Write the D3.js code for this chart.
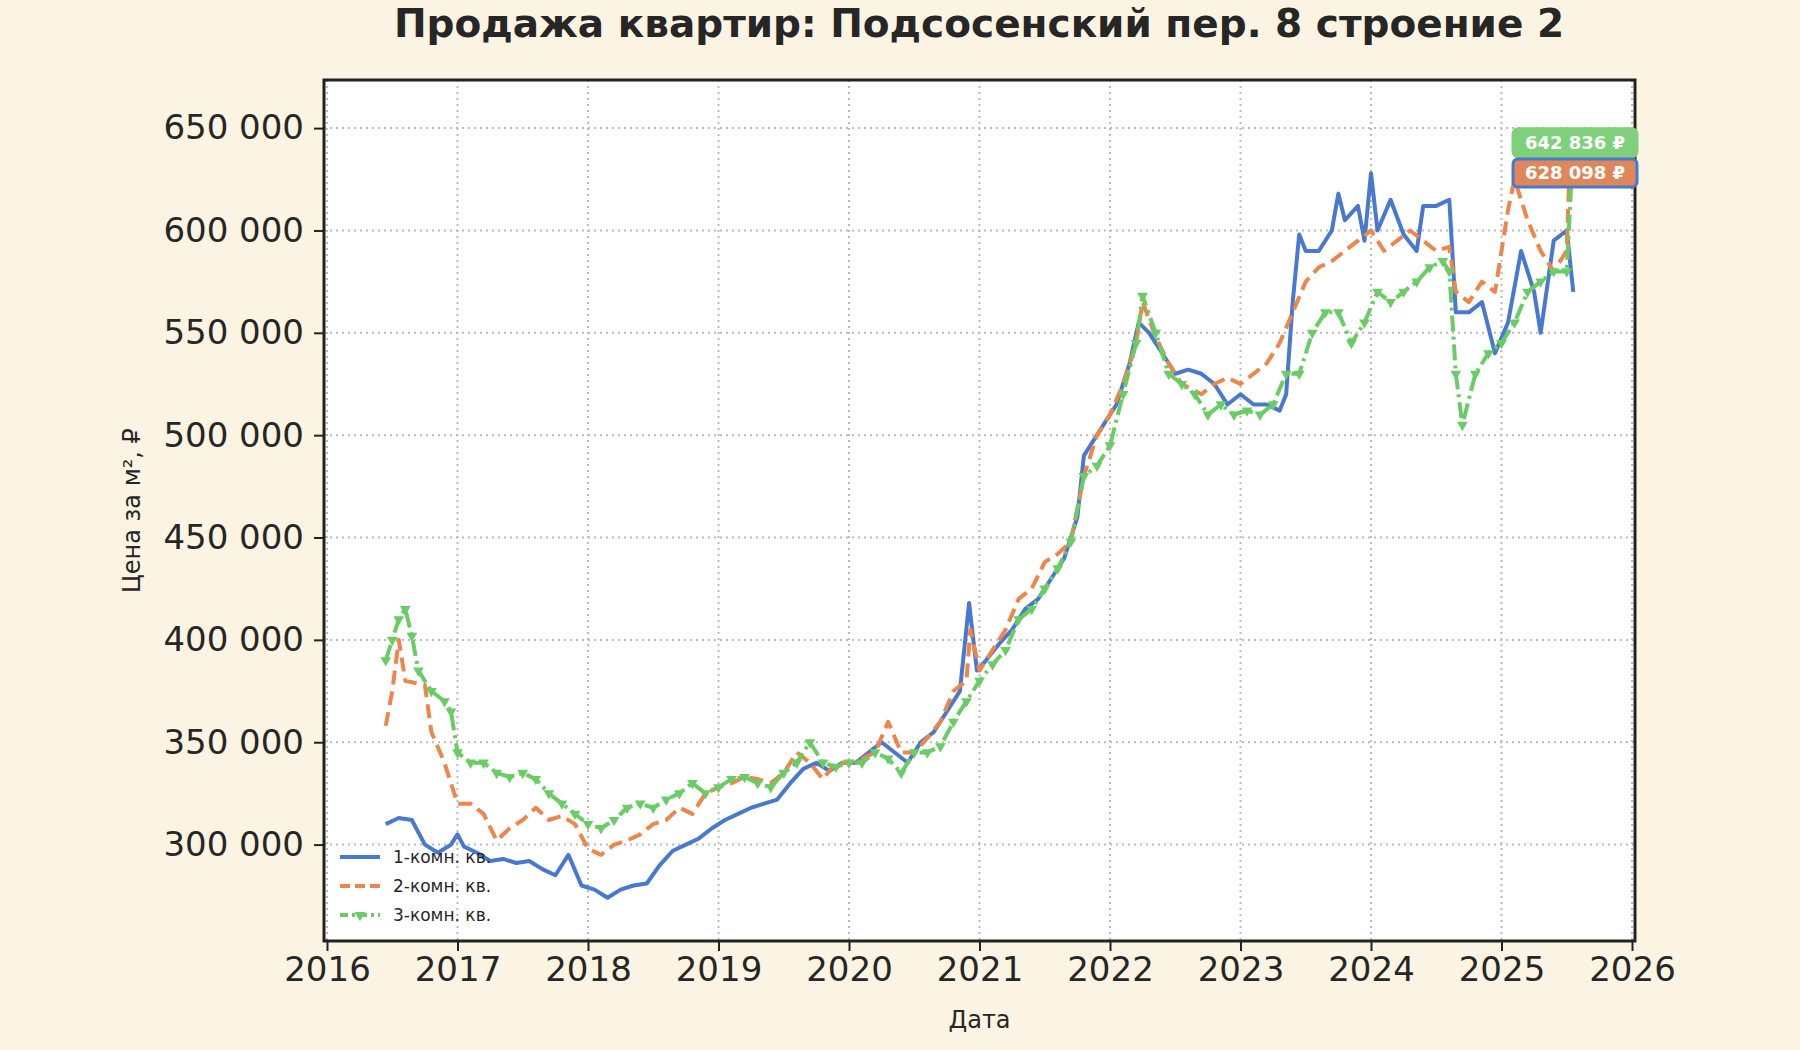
<!DOCTYPE html>
<html><head><meta charset="utf-8">
<script src="https://cdn.jsdelivr.net/npm/d3@7"></script>
<style>body{margin:0;background:#fcf4e3;font-family:"DejaVu Sans",sans-serif}</style>
</head><body><svg id="c" width="1800" height="1050"></svg>
<script>
const title = "Продажа квартир: Подсосенский пер. 8 строение 2";
const seriesNames = ["1-комн. кв.","2-комн. кв.","3-комн. кв."];
const yTicks = [300000,350000,400000,450000,500000,550000,600000,650000];
const xTicks = [2016,2017,2018,2019,2020,2021,2022,2023,2024,2025,2026];
const d1 = [2016.45,2016.55,2016.65,2016.75,2016.85,2016.95,2017.0,2017.05,2017.15,2017.25,2017.35,2017.45,2017.55,2017.65,2017.75,2017.85,2017.95,2018.05,2018.15,2018.25,2018.35,2018.45,2018.55,2018.65,2018.75,2018.85,2018.95,2019.05,2019.15,2019.25,2019.35,2019.45,2019.55,2019.65,2019.75,2019.85,2019.95,2020.05,2020.15,2020.25,2020.35,2020.45,2020.55,2020.65,2020.75,2020.85,2020.92,2020.98,2021.05,2021.15,2021.25,2021.35,2021.45,2021.55,2021.65,2021.75,2021.8,2021.95,2022.05,2022.15,2022.22,2022.3,2022.4,2022.5,2022.6,2022.7,2022.8,2022.9,2023.0,2023.1,2023.2,2023.3,2023.35,2023.4,2023.45,2023.5,2023.6,2023.7,2023.75,2023.8,2023.9,2023.95,2024.0,2024.05,2024.15,2024.25,2024.35,2024.4,2024.5,2024.6,2024.65,2024.75,2024.85,2024.95,2025.05,2025.15,2025.25,2025.3,2025.4,2025.5,2025.55];
const v1 = [310000,313000,312000,300000,296000,300000,305000,299000,296000,292000,293000,291000,292000,288000,285000,295000,280000,278000,274000,278000,280000,281000,290000,297000,300000,303000,308000,312000,315000,318000,320000,322000,330000,337000,340000,336000,340000,340000,345000,350000,345000,340000,350000,355000,365000,375000,418000,385000,390000,398000,405000,415000,420000,430000,440000,460000,490000,505000,515000,535000,555000,550000,540000,530000,532000,530000,525000,515000,520000,515000,515000,512000,520000,565000,598000,590000,590000,600000,618000,605000,612000,595000,628000,600000,615000,598000,590000,612000,612000,615000,560000,560000,565000,540000,555000,590000,570000,550000,595000,600000,570000];
const d2 = [2016.45,2016.5,2016.55,2016.6,2016.75,2016.8,2016.9,2016.95,2017.0,2017.1,2017.2,2017.3,2017.4,2017.5,2017.6,2017.7,2017.8,2017.9,2018.0,2018.1,2018.2,2018.3,2018.4,2018.5,2018.6,2018.7,2018.8,2018.9,2019.0,2019.1,2019.2,2019.3,2019.4,2019.5,2019.6,2019.7,2019.8,2019.9,2020.0,2020.1,2020.2,2020.3,2020.4,2020.5,2020.6,2020.7,2020.8,2020.9,2020.93,2021.0,2021.1,2021.2,2021.3,2021.4,2021.5,2021.6,2021.7,2021.8,2021.9,2022.0,2022.1,2022.2,2022.25,2022.35,2022.45,2022.55,2022.7,2022.8,2022.9,2023.0,2023.1,2023.2,2023.3,2023.4,2023.5,2023.6,2023.7,2023.8,2023.9,2024.0,2024.1,2024.2,2024.3,2024.4,2024.5,2024.6,2024.65,2024.75,2024.85,2024.95,2025.05,2025.1,2025.2,2025.3,2025.4,2025.5,2025.52];
const v2 = [358000,375000,400000,380000,378000,355000,340000,330000,320000,320000,315000,302000,308000,312000,318000,312000,314000,310000,298000,295000,300000,302000,305000,310000,312000,318000,315000,325000,328000,330000,333000,332000,330000,335000,345000,340000,332000,340000,340000,342000,345000,360000,345000,345000,352000,360000,375000,380000,405000,385000,395000,405000,420000,425000,438000,442000,448000,480000,500000,510000,525000,545000,565000,548000,535000,525000,520000,525000,528000,525000,530000,535000,545000,560000,575000,582000,585000,590000,595000,600000,590000,595000,600000,595000,590000,592000,570000,565000,575000,570000,610000,625000,605000,590000,580000,590000,628098];
const d3v = [2016.45,2016.5,2016.55,2016.6,2016.65,2016.7,2016.8,2016.9,2016.95,2017.0,2017.1,2017.2,2017.3,2017.4,2017.5,2017.6,2017.7,2017.8,2017.9,2018.0,2018.1,2018.2,2018.3,2018.4,2018.5,2018.6,2018.7,2018.8,2018.9,2019.0,2019.1,2019.2,2019.3,2019.4,2019.5,2019.6,2019.7,2019.8,2019.9,2020.0,2020.1,2020.2,2020.3,2020.4,2020.5,2020.6,2020.7,2020.8,2020.9,2021.0,2021.1,2021.2,2021.3,2021.4,2021.5,2021.6,2021.7,2021.8,2021.9,2022.0,2022.1,2022.2,2022.25,2022.35,2022.45,2022.55,2022.65,2022.75,2022.85,2022.95,2023.05,2023.15,2023.25,2023.35,2023.45,2023.55,2023.65,2023.75,2023.85,2023.95,2024.05,2024.15,2024.25,2024.35,2024.45,2024.55,2024.6,2024.65,2024.7,2024.8,2024.9,2025.0,2025.1,2025.2,2025.3,2025.4,2025.5,2025.55];
const v3 = [390000,400000,410000,415000,402000,385000,375000,370000,365000,345000,340000,340000,335000,333000,335000,332000,325000,320000,315000,310000,308000,312000,318000,320000,318000,322000,325000,330000,325000,328000,332000,333000,330000,328000,335000,340000,350000,340000,338000,340000,340000,345000,342000,335000,345000,345000,348000,360000,370000,380000,388000,395000,410000,415000,425000,435000,448000,480000,485000,495000,520000,545000,568000,550000,530000,525000,520000,510000,515000,510000,512000,510000,515000,530000,530000,550000,560000,560000,545000,555000,570000,565000,570000,575000,582000,585000,580000,530000,505000,530000,540000,545000,555000,570000,575000,580000,580000,642836];
const lastLabels = ["642 836 ₽","628 098 ₽"];

const svg = d3.select("#c");
const L=324,R=1635,T=80,B=941;
const x = d3.scaleLinear().domain([2016,2026]).range([L+3,R-3]);
const y = d3.scaleLinear().domain([252900,673500]).range([B,T]);
svg.append("rect").attr("x",L).attr("y",T).attr("width",R-L).attr("height",B-T).attr("fill","#fff");
const g=svg.append("g");
xTicks.forEach(t=>g.append("line").attr("x1",x(t)).attr("x2",x(t)).attr("y1",T).attr("y2",B).attr("stroke","#bbb").attr("stroke-width",2).attr("stroke-dasharray","2,4"));
yTicks.forEach(t=>g.append("line").attr("x1",L).attr("x2",R).attr("y1",y(t)).attr("y2",y(t)).attr("stroke","#bbb").attr("stroke-width",2).attr("stroke-dasharray","2,4"));
const fmt = v=>d3.format(",")(v).replace(/,/g," ");
const ya = svg.append("g").attr("transform",`translate(${L},0)`).call(d3.axisLeft(y).tickValues(yTicks).tickFormat(fmt).tickSize(10).tickPadding(10));
const xa = svg.append("g").attr("transform",`translate(0,${B})`).call(d3.axisBottom(x).tickValues(xTicks).tickFormat(d3.format("d")).tickSize(10).tickPadding(6));
[ya,xa].forEach(a=>{a.select(".domain").remove();a.selectAll("line").attr("stroke","#222").attr("stroke-width",2);a.selectAll("text").attr("font-size",34).attr("fill","#262626").attr("font-family","DejaVu Sans");});
const colors=["#4878d0","#ee854a","#6acc64"];
const dashes=[null,"14,7","16,5,3,5"];
const sets=[[d1,v1],[d2,v2],[d3v,v3]];
const line=d3.line().x(d=>x(d[0])).y(d=>y(d[1])).curve(d3.curveLinear);
sets.forEach(([d,v],i)=>{
  const pts=d.map((t,j)=>[t,v[j]]);
  svg.append("path").attr("d",line(pts)).attr("fill","none").attr("stroke",colors[i]).attr("stroke-width",4).attr("stroke-dasharray",dashes[i]).attr("stroke-linejoin","round");
  if(i===2) svg.selectAll(null).data(pts).enter().append("path").attr("d",d3.symbol(d3.symbolTriangle,50)).attr("transform",p=>`translate(${x(p[0])},${y(p[1])}) rotate(180)`).attr("fill",colors[2]);
});
svg.append("rect").attr("x",L).attr("y",T).attr("width",R-L).attr("height",B-T).attr("fill","none").attr("stroke","#222").attr("stroke-width",3);
[[v3[v3.length-1],lastLabels[0],"#7fd07a","#7fd07a"],[v2[v2.length-1],lastLabels[1],"#e0875a","#4878d0"]].forEach(([v,s,f,st])=>{
  const cy=y(v);
  svg.append("rect").attr("x",1513).attr("y",cy-14).attr("width",124).attr("height",28).attr("rx",5).attr("fill",f).attr("stroke",st).attr("stroke-width",3);
  svg.append("text").attr("x",1575).attr("y",cy+6).attr("text-anchor","middle").attr("font-size",18).attr("font-weight","bold").attr("fill","#fff").text(s);
});
seriesNames.forEach((n,i)=>{
  const ly=857+i*29;
  svg.append("line").attr("x1",340).attr("x2",380).attr("y1",ly).attr("y2",ly).attr("stroke",colors[i]).attr("stroke-width",4).attr("stroke-dasharray",dashes[i]?(i===1?"10,5":"8,4,3,4"):null);
  if(i===2) svg.append("path").attr("d",d3.symbol(d3.symbolTriangle,50)).attr("transform",`translate(360,${ly}) rotate(180)`).attr("fill",colors[2]);
  svg.append("text").attr("x",393).attr("y",ly+6).attr("font-size",17).attr("fill","#262626").text(n);
});
svg.append("text").attr("x",979).attr("y",37).attr("text-anchor","middle").attr("font-size",39).attr("font-weight","bold").attr("fill","#262626").text(title);
svg.append("text").attr("x",(L+R)/2).attr("y",1028).attr("text-anchor","middle").attr("font-size",24).attr("fill","#262626").text("Дата");
svg.append("text").attr("transform",`translate(140,${(T+B)/2}) rotate(-90)`).attr("text-anchor","middle").attr("font-size",24).attr("fill","#262626").text("Цена за м², ₽");
</script></body></html>
